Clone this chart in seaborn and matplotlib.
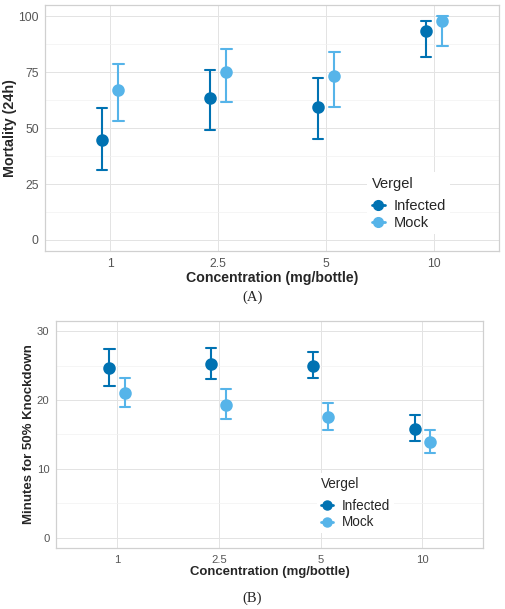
import numpy as np
import pandas as pd
import matplotlib
matplotlib.use("Agg")
import matplotlib.pyplot as plt
from matplotlib.lines import Line2D
import seaborn as sns

concentrations = ["1", "2.5", "5", "10"]
groups = ["Infected", "Mock"]

# panel A: mortality (24h), mean and interval per group
mort_infected = [44.6, 63.7, 59.6, 93.5]
mort_infected_lo = [31.2, 49.3, 45.2, 81.9]
mort_infected_hi = [59.0, 76.1, 72.5, 97.9]
mort_mock = [67.2, 75.3, 73.4, 97.9]
mort_mock_lo = [53.2, 61.5, 59.4, 86.9]
mort_mock_hi = [78.9, 85.4, 84.0, 100.0]

# panel B: minutes for 50% knockdown
kd_infected = [24.6, 25.2, 25.0, 15.8]
kd_infected_lo = [22.05, 23.1, 23.2, 14.1]
kd_infected_hi = [27.4, 27.6, 26.9, 17.8]
kd_mock = [21.0, 19.3, 17.5, 13.9]
kd_mock_lo = [19.0, 17.2, 15.6, 12.3]
kd_mock_hi = [23.2, 21.6, 19.5, 15.7]

palette = {"Infected": "#0072B2", "Mock": "#56B4E9"}


def long_frame(inf, inf_lo, inf_hi, mock, mock_lo, mock_hi):
    # three rows per cell (lo, mid, hi): median -> point, full range -> error bar
    rows = []
    for g, mid, lo, hi in [("Infected", inf, inf_lo, inf_hi), ("Mock", mock, mock_lo, mock_hi)]:
        for c, m, l, h in zip(concentrations, mid, lo, hi):
            for v in (l, m, h):
                rows.append({"conc": c, "Vergel": g, "value": v})
    return pd.DataFrame(rows)


def style_axes(ax, ylim, major, minor, ylabel, ylab_x, k, leg_anchor):
    ax.set_xlim(-0.6, 3.6)
    ax.set_ylim(*ylim)
    ax.set_yticks(major)
    ax.set_yticks(minor, minor=True)
    ax.grid(True, which="major", color="#e3e3e3", linewidth=0.7)
    ax.grid(True, which="minor", color="#f1f1f1", linewidth=0.5)
    ax.set_axisbelow(True)
    for s in ax.spines.values():
        s.set_color("#d0d0d0")
        s.set_linewidth(0.9)
    ax.tick_params(which="major", length=2.2, width=0.6, color="#d0d0d0",
                   labelsize=8.7 * k, labelcolor="#555555", pad=2.5)
    ax.tick_params(which="minor", length=0)
    ax.set_xlabel("Concentration (mg/bottle)", fontsize=10.2 * k, fontweight="bold", labelpad=1)
    ax.set_ylabel(ylabel, fontsize=10.3 * k, fontweight="bold")
    ax.yaxis.set_label_coords(ylab_x, 0.5)
    handles = [Line2D([], [], color=palette[g], marker="o", markersize=7 * k, linewidth=2, label=g)
               for g in groups]
    fs = 10.5 * k
    leg = ax.legend(handles=handles, title="Vergel", loc="upper left", bbox_to_anchor=leg_anchor,
                    frameon=True, facecolor="white", edgecolor="none", framealpha=1,
                    fontsize=fs, title_fontsize=fs, alignment="left", handlelength=0.9,
                    handletextpad=0.6, labelspacing=0.2, borderpad=0.3)
    # a bit more room between the legend title and the entries
    leg._legend_box.sep = 0.55 * fs


sns.set_style("white")
plt.rcParams["font.family"] = ["Liberation Sans", "DejaVu Sans"]

fig = plt.figure(figsize=(5.05, 6.09), dpi=100)
axA = fig.add_axes([0.0897, 0.5878, 0.8983, 0.4035])
axB = fig.add_axes([0.1109, 0.0997, 0.8461, 0.3737])

for ax, df in [
    (axA, long_frame(mort_infected, mort_infected_lo, mort_infected_hi, mort_mock, mort_mock_lo, mort_mock_hi)),
    (axB, long_frame(kd_infected, kd_infected_lo, kd_infected_hi, kd_mock, kd_mock_lo, kd_mock_hi)),
]:
    sns.pointplot(data=df, x="conc", y="value", hue="Vergel", order=concentrations,
                  hue_order=groups, palette=palette, estimator=np.median,
                  errorbar=("pi", 100), dodge=0.15, linestyle="none", markers="o",
                  markersize=7, capsize=0.1, err_kws={"linewidth": 1.5}, ax=ax)

style_axes(axA, (-5, 105), [0, 25, 50, 75, 100], [12.5, 37.5, 62.5, 87.5],
           "Mortality (24h)", -0.062, 1.0, (0.694, 0.35))
style_axes(axB, (-1.5, 31.5), [0, 10, 20, 30], [5, 15, 25],
           "Minutes for 50% Knockdown", -0.049, 0.93, (0.595, 0.36))

fig.text(0.5, 1 - 297 / 609, "(A)", ha="center", va="center", fontsize=10.5,
         family=["Liberation Serif", "DejaVu Serif"])
fig.text(0.5, 1 - 598 / 609, "(B)", ha="center", va="center", fontsize=10.5,
         family=["Liberation Serif", "DejaVu Serif"])

fig.savefig("out.png", dpi=100)
